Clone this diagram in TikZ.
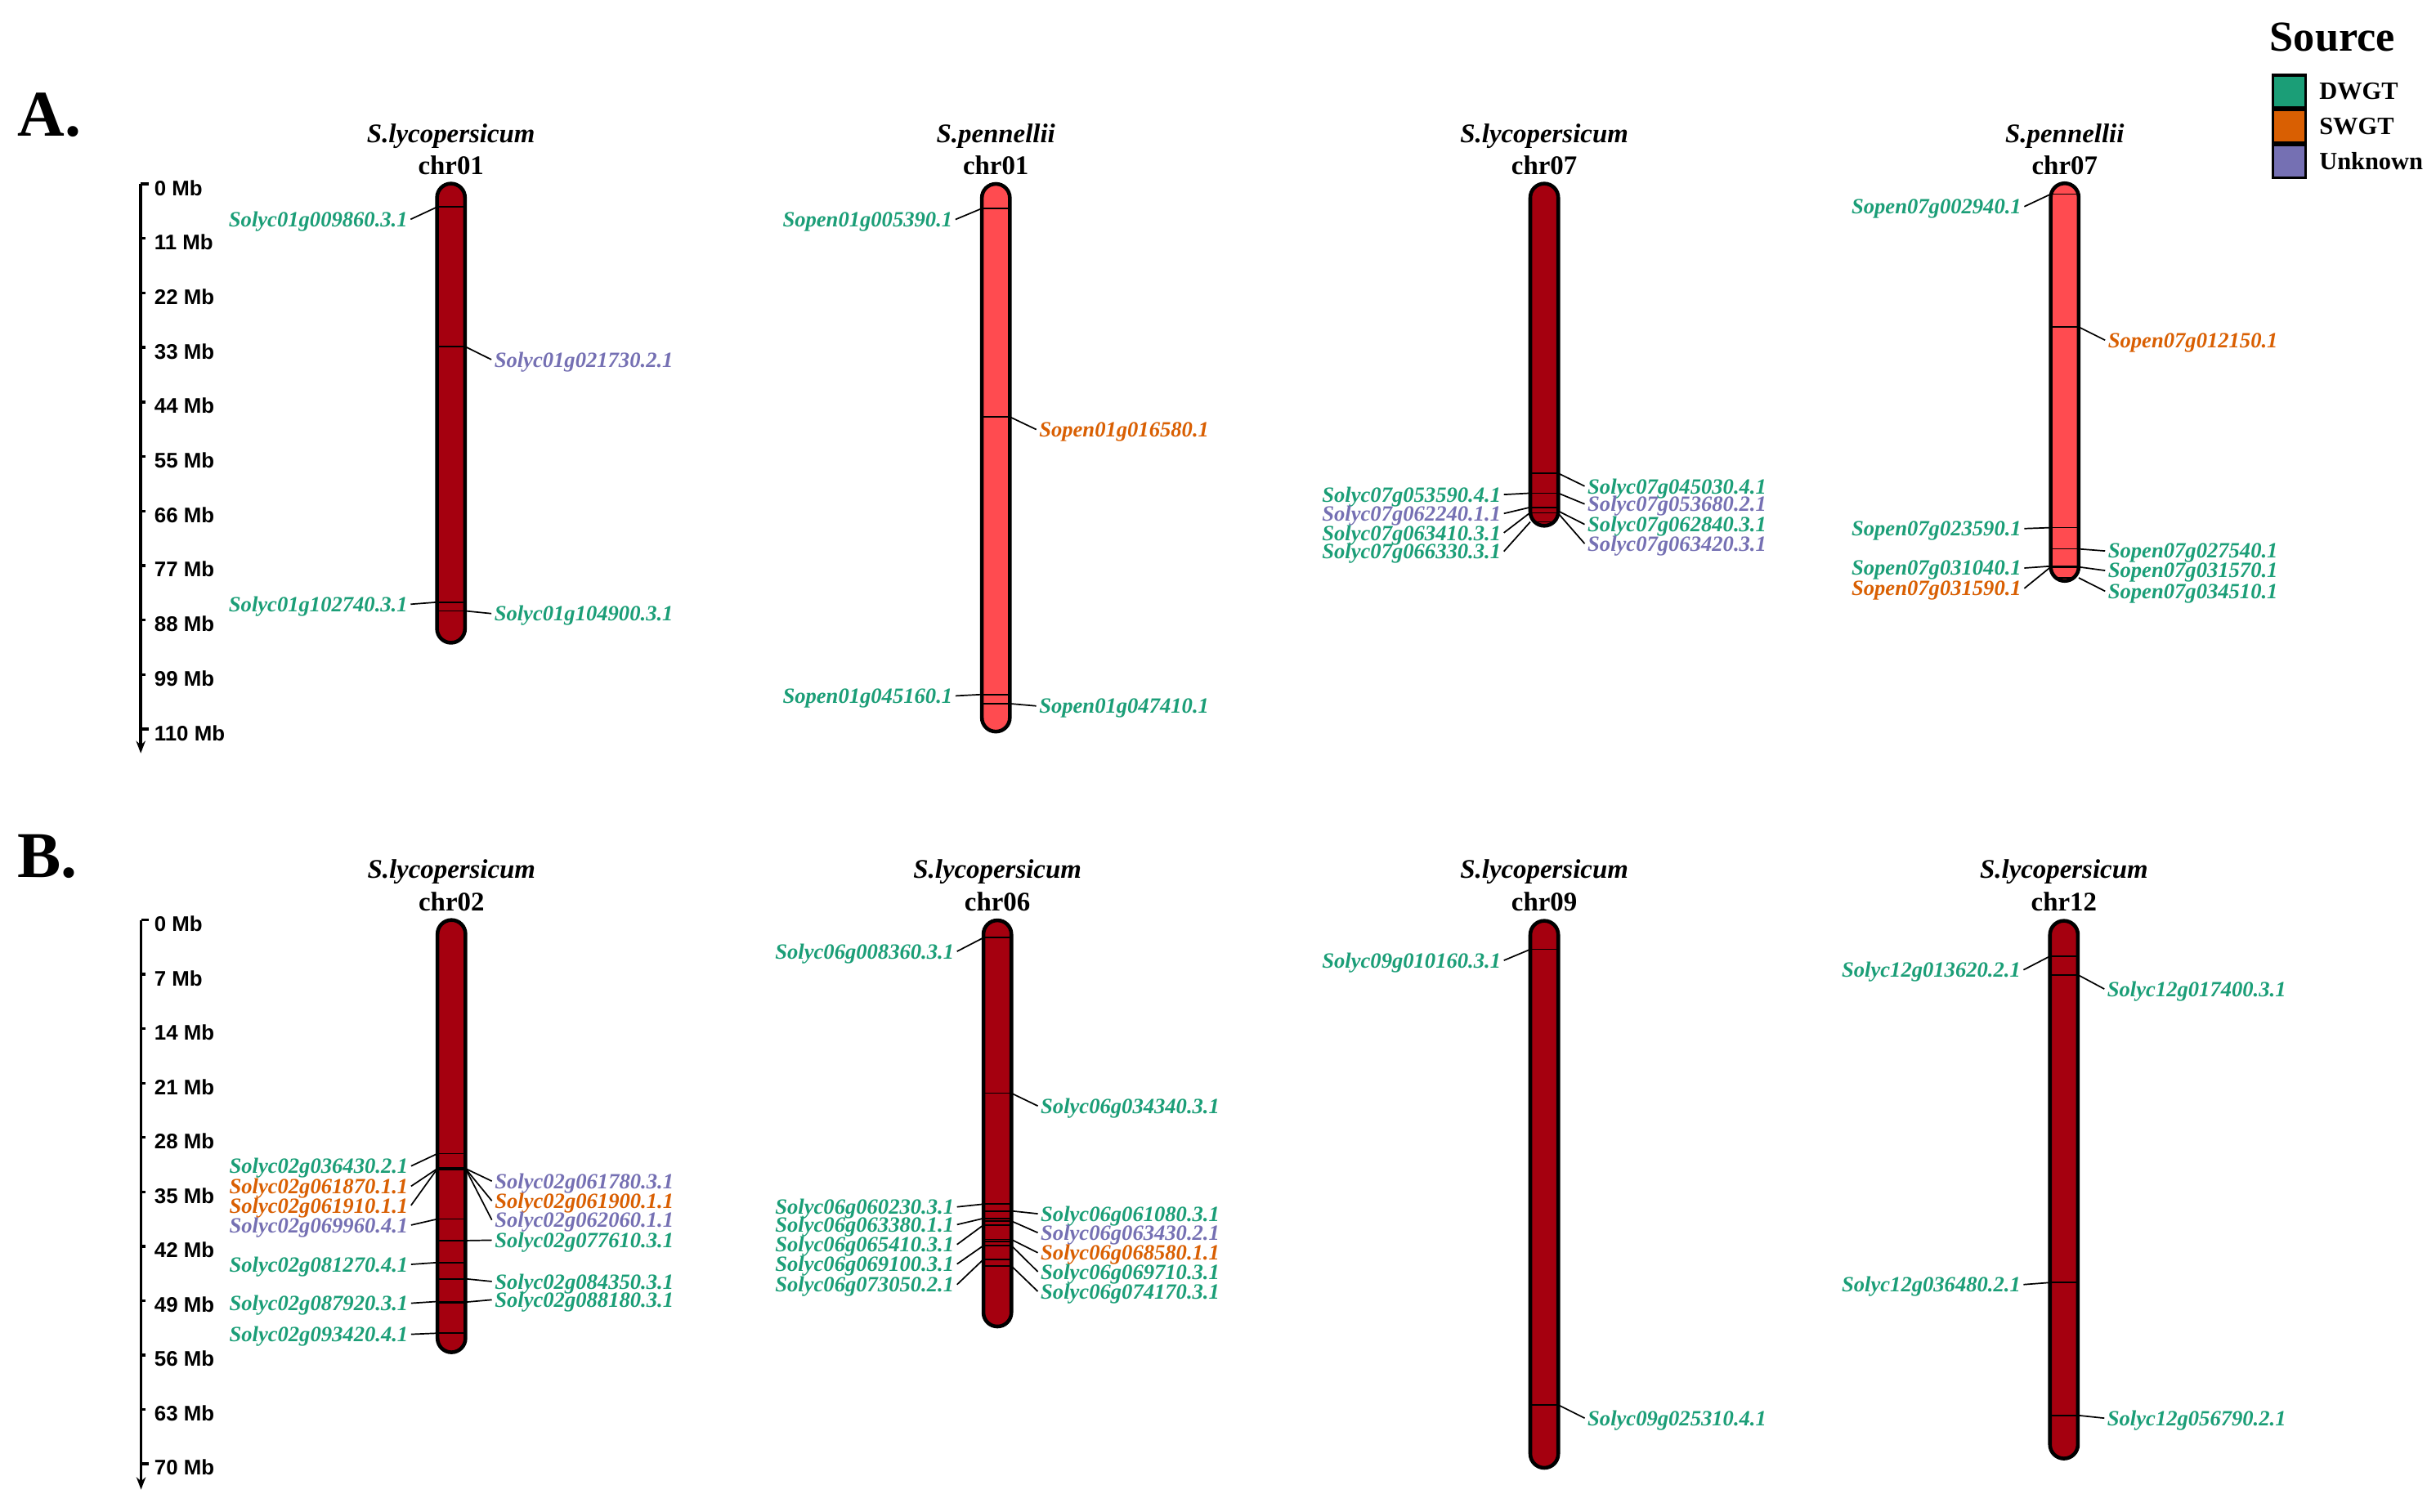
\documentclass[tikz,border=0pt]{standalone}
\usepackage{fontspec}
\setmainfont{Liberation Serif}
\newfontfamily\sansb{Liberation Sans}
\usetikzlibrary{arrows.meta}
\definecolor{dwgt}{HTML}{1B9E77}
\definecolor{swgt}{HTML}{D95F02}
\definecolor{unkn}{HTML}{7570B3}
\definecolor{chrdark}{HTML}{A5000F}
\definecolor{chrlight}{HTML}{FF4B50}
\tikzset{
  lab/.style={font=\fontsize{7}{8}\selectfont\bfseries\itshape, inner sep=0.75pt},
  sptitle/.style={font=\fontsize{8.65}{10}\selectfont\bfseries\itshape, inner sep=0pt},
  chrtitle/.style={font=\fontsize{8.65}{10}\selectfont\bfseries, inner sep=0pt},
  axlab/.style={font=\sansb\fontsize{6.8}{8}\selectfont\bfseries, anchor=west, inner sep=0pt},
  axisline/.style={line width=0.9pt},
  gline/.style={line width=0.45pt},
  conn/.style={line width=0.45pt},
  outline/.style={line width=1.2pt},
  panel/.style={font=\fontsize{21}{24}\selectfont\bfseries, inner sep=0pt, anchor=base west},
  legbox/.style={draw, line width=0.9pt, minimum width=10.5pt, minimum height=10.5pt, inner sep=0pt},
  leglab/.style={font=\fontsize{8}{9}\selectfont\bfseries, anchor=west, inner sep=0pt}
}
% chromosome: cx, top, bottom, fill, gene line ys
\newcommand\chrom[5]{%
  \fill[#4, rounded corners=4.5pt] (#1-9,#2) rectangle (#1+9,#3);
  \begin{scope}
    \clip[rounded corners=4.5pt] (#1-9,#2) rectangle (#1+9,#3);
    \foreach \yy in {#5} \draw[gline] (#1-10,\yy) -- (#1+10,\yy);
  \end{scope}
  \draw[outline, rounded corners=4.5pt] (#1-9,#2) rectangle (#1+9,#3);}
% gene on left: cx, line y, label y, colour, text, name
\newcommand\gL[6]{%
  \coordinate (#6p) at (#1-9,#2);
  \coordinate (#6q) at (#1-26,#3);
  \node[lab, text=#4, anchor=east] (#6) at (#1-26,#3+1.5) {#5};
  \draw[conn] (#6p) -- (#6q);}
\newcommand\gR[6]{%
  \coordinate (#6p) at (#1+9,#2);
  \coordinate (#6q) at (#1+26,#3);
  \node[lab, text=#4, anchor=west] (#6) at (#1+26,#3+1.5) {#5};
  \draw[conn] (#6p) -- (#6q);}
\begin{document}
\begin{tikzpicture}[x=0.5pt, y=-0.5pt]
\fill[white] (0,0) rectangle (1568,973);
\useasboundingbox (0,0) rectangle (1568,973);

% panel letters
\node[panel] (pA) at (11,87.8) {A.};
\node[panel] (pB) at (11,564.7) {B.};

% axis A
\draw[axisline, -{Stealth[length=4pt, width=3pt]}] (90.6,118.4) -- (90.6,485);
\foreach \k in {0,...,10} {
  \pgfmathsetmacro\yy{118.4+35.1*\k}
  \pgfmathtruncatemacro\mb{11*\k}
  \ifnum\k=0 \draw[axisline] (90.6,\yy) -- (96,\yy);
  \else\ifnum\k=10 \draw[axisline] (90.6,\yy) -- (96,\yy);
  \else \draw[axisline] (90.6,\yy) -- (93.5,\yy); \fi\fi
  \node[axlab] (ta\k) at (99,\yy+2.5) {\mb\ Mb};
}
% axis B
\draw[axisline, -{Stealth[length=4pt, width=3pt]}] (90.8,592.3) -- (90.8,959);
\foreach \k in {0,...,10} {
  \pgfmathsetmacro\yy{592.3+35*\k}
  \pgfmathtruncatemacro\mb{7*\k}
  \ifnum\k=0 \draw[axisline] (90.8,\yy) -- (96,\yy);
  \else\ifnum\k=10 \draw[axisline] (90.8,\yy) -- (96,\yy);
  \else \draw[axisline] (90.8,\yy) -- (93.5,\yy); \fi\fi
  \node[axlab] (tb\k) at (99,\yy+2.5) {\mb\ Mb};
}

% ---------- Panel A ----------
% S.lycopersicum chr01
\node[sptitle] (t1s) at (290.3,87.5) {S.lycopersicum};
\node[chrtitle] (t1c) at (290.3,106.3) {chr01};
\chrom{290.3}{118.2}{413.8}{chrdark}{133.3,223.1,387.7,393.3}
\gL{290.3}{133.3}{141.2}{dwgt}{Solyc01g009860.3.1}{a1}
\gR{290.3}{223.1}{231.5}{unkn}{Solyc01g021730.2.1}{a2}
\gL{290.3}{387.7}{389}{dwgt}{Solyc01g102740.3.1}{a3}
\gR{290.3}{393.3}{395}{dwgt}{Solyc01g104900.3.1}{a4}

% S.pennellii chr01
\node[sptitle] (t2s) at (641,87.5) {S.pennellii};
\node[chrtitle] (t2c) at (641,106.3) {chr01};
\chrom{641}{118.4}{471}{chrlight}{134.2,268.4,447.1,453}
\gL{641}{134.2}{141.3}{dwgt}{Sopen01g005390.1}{b1}
\gR{641}{268.4}{276.5}{swgt}{Sopen01g016580.1}{b2}
\gL{641}{447.1}{448}{dwgt}{Sopen01g045160.1}{b3}
\gR{641}{453}{454.5}{dwgt}{Sopen01g047410.1}{b4}

% S.lycopersicum chr07
\node[sptitle] (t3s) at (994,87.5) {S.lycopersicum};
\node[chrtitle] (t3c) at (994,106.3) {chr07};
\chrom{994}{118.2}{338.5}{chrdark}{304.7,317.5,326.6,330.2,336}
\gR{994}{304.7}{313}{dwgt}{Solyc07g045030.4.1}{c1}
\gL{994}{317.5}{318.4}{dwgt}{Solyc07g053590.4.1}{c2}
\gR{994}{317.5}{324.5}{unkn}{Solyc07g053680.2.1}{c3}
\gL{994}{326.6}{330.6}{unkn}{Solyc07g062240.1.1}{c4}
\gR{994}{329}{337.6}{dwgt}{Solyc07g062840.3.1}{c5}
\gL{994}{330}{343}{dwgt}{Solyc07g063410.3.1}{c6}
\gR{994}{330.5}{350}{unkn}{Solyc07g063420.3.1}{c7}
\gL{994}{336}{355}{dwgt}{Solyc07g066330.3.1}{c8}

% S.pennellii chr07
\node[sptitle] (t4s) at (1329,87.5) {S.pennellii};
\node[chrtitle] (t4c) at (1329,106.3) {chr07};
\chrom{1329}{118}{374}{chrlight}{125,210.5,339.7,353.4,364.5,365.5,372}
\gL{1329}{125}{133}{dwgt}{Sopen07g002940.1}{d1}
\gR{1329}{210.5}{219}{swgt}{Sopen07g012150.1}{d2}
\gL{1329}{339.7}{340.3}{dwgt}{Sopen07g023590.1}{d3}
\gR{1329}{353.4}{354.7}{dwgt}{Sopen07g027540.1}{d4}
\gL{1329}{364.5}{365.7}{dwgt}{Sopen07g031040.1}{d5}
\gR{1329}{365}{367.3}{dwgt}{Sopen07g031570.1}{d6}
\gL{1329}{365}{378.8}{swgt}{Sopen07g031590.1}{d7}
\gR{1329}{372}{380.6}{dwgt}{Sopen07g034510.1}{d8}

% ---------- Panel B ----------
% chr02
\node[sptitle] (t5s) at (290.6,561) {S.lycopersicum};
\node[chrtitle] (t5c) at (290.6,580.5) {chr02};
\chrom{290.6}{592.3}{870.6}{chrdark}{742.7,751.8,752.8,784.8,798.7,812.8,823.3,837.9,838.6,858.3}
\gL{290.6}{742.7}{750.7}{dwgt}{Solyc02g036430.2.1}{e1}
\gL{290.6}{752.3}{763.7}{swgt}{Solyc02g061870.1.1}{e2}
\gL{290.6}{752.3}{776}{swgt}{Solyc02g061910.1.1}{e3}
\gL{290.6}{784.8}{788.7}{unkn}{Solyc02g069960.4.1}{e4}
\gL{290.6}{812.8}{814}{dwgt}{Solyc02g081270.4.1}{e5}
\gL{290.6}{837.9}{839}{dwgt}{Solyc02g087920.3.1}{e6}
\gL{290.6}{858.3}{859}{dwgt}{Solyc02g093420.4.1}{e7}
\gR{290.6}{752.3}{760.4}{unkn}{Solyc02g061780.3.1}{e8}
\gR{290.6}{752.3}{773.1}{swgt}{Solyc02g061900.1.1}{e9}
\gR{290.6}{752.3}{785.4}{unkn}{Solyc02g062060.1.1}{e10}
\gR{290.6}{798.7}{798.4}{dwgt}{Solyc02g077610.3.1}{e11}
\gR{290.6}{823.3}{825}{dwgt}{Solyc02g084350.3.1}{e12}
\gR{290.6}{838.3}{836.8}{dwgt}{Solyc02g088180.3.1}{e13}

% chr06
\node[sptitle] (t6s) at (642,561) {S.lycopersicum};
\node[chrtitle] (t6c) at (642,580.5) {chr06};
\chrom{642}{592.5}{854}{chrdark}{603.7,703.8,775.2,779.6,784.4,786.1,788.7,797.9,799.3,801.9,810.8,815}
\gL{642}{603.7}{612.5}{dwgt}{Solyc06g008360.3.1}{f1}
\gR{642}{703.8}{712}{dwgt}{Solyc06g034340.3.1}{f2}
\gL{642}{775.2}{777}{dwgt}{Solyc06g060230.3.1}{f3}
\gR{642}{779.6}{781.4}{dwgt}{Solyc06g061080.3.1}{f4}
\gL{642}{784.4}{788.4}{dwgt}{Solyc06g063380.1.1}{f5}
\gR{642}{786.1}{793.6}{unkn}{Solyc06g063430.2.1}{f6}
\gL{642}{788.7}{801.2}{dwgt}{Solyc06g065410.3.1}{f7}
\gR{642}{798}{806.5}{swgt}{Solyc06g068580.1.1}{f8}
\gL{642}{801.9}{813.8}{dwgt}{Solyc06g069100.3.1}{f9}
\gR{642}{801.9}{818.7}{dwgt}{Solyc06g069710.3.1}{f10}
\gL{642}{810.8}{827}{dwgt}{Solyc06g073050.2.1}{f11}
\gR{642}{815}{831.4}{dwgt}{Solyc06g074170.3.1}{f12}

% chr09
\node[sptitle] (t7s) at (994,561) {S.lycopersicum};
\node[chrtitle] (t7c) at (994,580.5) {chr09};
\chrom{994}{592.8}{945}{chrdark}{611.2,904.5}
\gL{994}{611.2}{618.3}{dwgt}{Solyc09g010160.3.1}{g1}
\gR{994}{904.5}{913}{dwgt}{Solyc09g025310.4.1}{g2}

% chr12
\node[sptitle] (t8s) at (1328.5,561) {S.lycopersicum};
\node[chrtitle] (t8c) at (1328.5,580.5) {chr12};
\chrom{1328.5}{592.8}{939}{chrdark}{615.6,627.6,825.7,911.2}
\gL{1328.5}{615.6}{624.4}{dwgt}{Solyc12g013620.2.1}{h1}
\gR{1328.5}{627.6}{636.7}{dwgt}{Solyc12g017400.3.1}{h2}
\gL{1328.5}{825.7}{827}{dwgt}{Solyc12g036480.2.1}{h3}
\gR{1328.5}{911.2}{913}{dwgt}{Solyc12g056790.2.1}{h4}

% ---------- Legend ----------
\node[font=\fontsize{13.75}{15}\selectfont\bfseries, inner sep=0pt] (srcT) at (1501.3,24) {Source};
\node[legbox, fill=dwgt] (bx1) at (1473.5,59) {};
\node[legbox, fill=swgt] (bx2) at (1473.5,81.2) {};
\node[legbox, fill=unkn] (bx3) at (1473.5,103.8) {};
\node[leglab] (lb1) at (1492.5,59) {DWGT};
\node[leglab] (lb2) at (1492.5,81.2) {SWGT};
\node[leglab] (lb3) at (1492.5,103.8) {Unknown};
\end{tikzpicture}
\end{document}
